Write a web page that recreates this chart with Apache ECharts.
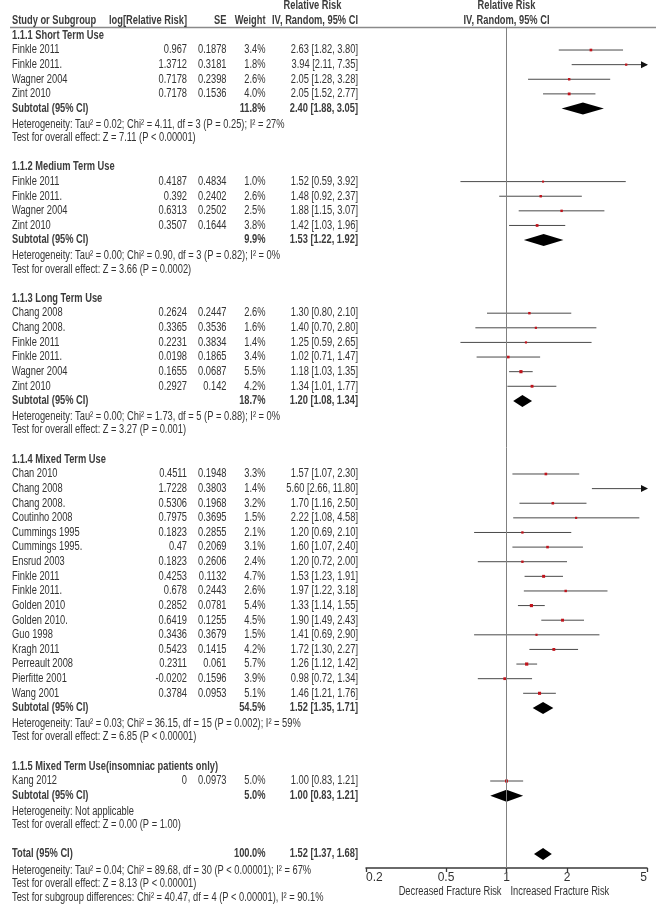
<!DOCTYPE html>
<html><head><meta charset="utf-8">
<script src="https://cdn.jsdelivr.net/npm/echarts@6/dist/echarts.min.js"></script>
<style>html,body{margin:0;padding:0;background:#fff}#c{width:658px;height:908px}</style>
</head><body><div id="c"></div>
<script>
// ---------- DATA ----------
const subgroupTitles = ['1.1.1 Short Term Use', '1.1.2 Medium Term Use', '1.1.3 Long Term Use', '1.1.4 Mixed Term Use', '1.1.5 Mixed Term Use(insomniac patients only)'];
const studyGroup = [0,0,0,0, 1,1,1,1, 2,2,2,2,2,2, 3,3,3,3,3,3,3,3,3,3,3,3,3,3,3,3, 4];
const studyNames = ['Finkle 2011','Finkle 2011.','Wagner 2004','Zint 2010',
  'Finkle 2011','Finkle 2011.','Wagner 2004','Zint 2010',
  'Chang 2008','Chang 2008.','Finkle 2011','Finkle 2011.','Wagner 2004','Zint 2010',
  'Chan 2010','Chang 2008','Chang 2008.','Coutinho 2008','Cummings 1995','Cummings 1995.','Ensrud 2003','Finkle 2011','Finkle 2011.','Golden 2010','Golden 2010.','Guo 1998','Kragh 2011','Perreault 2008','Pierfitte 2001','Wang 2001',
  'Kang 2012'];
const logRR = [0.967,1.3712,0.7178,0.7178,
  0.4187,0.392,0.6313,0.3507,
  0.2624,0.3365,0.2231,0.0198,0.1655,0.2927,
  0.4511,1.7228,0.5306,0.7975,0.1823,0.47,0.1823,0.4253,0.678,0.2852,0.6419,0.3436,0.5423,0.2311,-0.0202,0.3784,
  0];
const seValues = [0.1878,0.3181,0.2398,0.1536,
  0.4834,0.2402,0.2502,0.1644,
  0.2447,0.3536,0.3834,0.1865,0.0687,0.142,
  0.1948,0.3803,0.1968,0.3695,0.2855,0.2069,0.2606,0.1132,0.2443,0.0781,0.1255,0.3679,0.1415,0.061,0.1596,0.0953,
  0.0973];
const weights = [3.4,1.8,2.6,4.0,
  1.0,2.6,2.5,3.8,
  2.6,1.6,1.4,3.4,5.5,4.2,
  3.3,1.4,3.2,1.5,2.1,3.1,2.4,4.7,2.6,5.4,4.5,1.5,4.2,5.7,3.9,5.1,
  5.0];
const rrValues = [2.63,3.94,2.05,2.05,
  1.52,1.48,1.88,1.42,
  1.30,1.40,1.25,1.02,1.18,1.34,
  1.57,5.60,1.70,2.22,1.20,1.60,1.20,1.53,1.97,1.33,1.90,1.41,1.72,1.26,0.98,1.46,
  1.00];
const ciLower = [1.82,2.11,1.28,1.52,
  0.59,0.92,1.15,1.03,
  0.80,0.70,0.59,0.71,1.03,1.01,
  1.07,2.66,1.16,1.08,0.69,1.07,0.72,1.23,1.22,1.14,1.49,0.69,1.30,1.12,0.72,1.21,
  0.83];
const ciUpper = [3.80,7.35,3.28,2.77,
  3.92,2.37,3.07,1.96,
  2.10,2.80,2.65,1.47,1.35,1.77,
  2.30,11.80,2.50,4.58,2.10,2.40,2.00,1.91,3.18,1.55,2.43,2.90,2.27,1.42,1.34,1.76,
  1.21];
const subtotalWeight = [11.8, 9.9, 18.7, 54.5, 5.0];
const subtotalRR = [2.40, 1.53, 1.20, 1.52, 1.00];
const subtotalLower = [1.88, 1.22, 1.08, 1.35, 0.83];
const subtotalUpper = [3.05, 1.92, 1.34, 1.71, 1.21];
const heterogeneityTexts = [
  'Heterogeneity: Tau² = 0.02; Chi² = 4.11, df = 3 (P = 0.25); I² = 27%',
  'Heterogeneity: Tau² = 0.00; Chi² = 0.90, df = 3 (P = 0.82); I² = 0%',
  'Heterogeneity: Tau² = 0.00; Chi² = 1.73, df = 5 (P = 0.88); I² = 0%',
  'Heterogeneity: Tau² = 0.03; Chi² = 36.15, df = 15 (P = 0.002); I² = 59%',
  'Heterogeneity: Not applicable'];
const overallEffectTexts = [
  'Test for overall effect: Z = 7.11 (P < 0.00001)',
  'Test for overall effect: Z = 3.66 (P = 0.0002)',
  'Test for overall effect: Z = 3.27 (P = 0.001)',
  'Test for overall effect: Z = 6.85 (P < 0.00001)',
  'Test for overall effect: Z = 0.00 (P = 1.00)'];
const totalWeight = 100.0;
const totalRR = 1.52, totalLower = 1.37, totalUpper = 1.68;
const totalTexts = [
  'Heterogeneity: Tau² = 0.04; Chi² = 89.68, df = 30 (P < 0.00001); I² = 67%',
  'Test for overall effect: Z = 8.13 (P < 0.00001)',
  'Test for subgroup differences: Chi² = 40.47, df = 4 (P < 0.00001), I² = 90.1%'];
const headerTop = ['Relative Risk', 'Relative Risk'];
const headerCols = ['Study or Subgroup', 'log[Relative Risk]', 'SE', 'Weight', 'IV, Random, 95% CI', 'IV, Random, 95% CI'];
const axisTicks = [0.2, 0.5, 1, 2, 5];
const favoursLabels = ['Decreased Fracture Risk', 'Increased Fracture Risk'];

// ---------- LAYOUT (rows built from structure) ----------
const FONT_FAMILY = '"Liberation Sans",Arial,sans-serif';
const NARROW = 0.775;
const COL = {name: 12, log: 187, se: 226.5, weight: 265.5, ci: 358, ciCenter: 312.5};
const fmtCI = (r, l, u) => r.toFixed(2) + ' [' + l.toFixed(2) + ', ' + u.toFixed(2) + ']';

const textRows = [];   // {row, cells:[...]}
const studyRows = [];  // [rr, lo, hi, row, weight]
const diamondRows = []; // [rr, lo, hi, row]
textRows.push({row: -2, cells: [{x: 'ciCenter', text: headerTop[0], bold: true, align: 'center'}, {x: 'one', text: headerTop[1], bold: true, align: 'center'}]});
textRows.push({row: -1, cells: [
  {x: 'name', text: headerCols[0], bold: true, align: 'left'},
  {x: 'log', text: headerCols[1], bold: true, align: 'right'},
  {x: 'se', text: headerCols[2], bold: true, align: 'right'},
  {x: 'weight', text: headerCols[3], bold: true, align: 'right'},
  {x: 'ci', text: headerCols[4], bold: true, align: 'right'},
  {x: 'one', text: headerCols[5], bold: true, align: 'center'}]});
let r = 0;
subgroupTitles.forEach((title, g) => {
  textRows.push({row: r, cells: [{x: 'name', text: title, bold: true, align: 'left'}]});
  r++;
  studyNames.forEach((nm, i) => {
    if (studyGroup[i] !== g) return;
    textRows.push({row: r, cells: [
      {x: 'name', text: nm, align: 'left'},
      {x: 'log', text: String(logRR[i]), align: 'right'},
      {x: 'se', text: String(seValues[i]), align: 'right'},
      {x: 'weight', text: weights[i].toFixed(1) + '%', align: 'right'},
      {x: 'ci', text: fmtCI(rrValues[i], ciLower[i], ciUpper[i]), align: 'right'}]});
    studyRows.push([rrValues[i], ciLower[i], ciUpper[i], r, weights[i]]);
    r++;
  });
  textRows.push({row: r, cells: [
    {x: 'name', text: 'Subtotal (95% CI)', bold: true, align: 'left'},
    {x: 'weight', text: subtotalWeight[g].toFixed(1) + '%', bold: true, align: 'right'},
    {x: 'ci', text: fmtCI(subtotalRR[g], subtotalLower[g], subtotalUpper[g]), bold: true, align: 'right'}]});
  diamondRows.push([subtotalRR[g], subtotalLower[g], subtotalUpper[g], r]);
  r++;
  textRows.push({row: r + 0.1, cells: [{x: 'name', text: heterogeneityTexts[g], align: 'left'}]});
  r++;
  textRows.push({row: r, cells: [{x: 'name', text: overallEffectTexts[g], align: 'left'}]});
  r += 2;
});
textRows.push({row: r, cells: [
  {x: 'name', text: 'Total (95% CI)', bold: true, align: 'left'},
  {x: 'weight', text: totalWeight.toFixed(1) + '%', bold: true, align: 'right'},
  {x: 'ci', text: fmtCI(totalRR, totalLower, totalUpper), bold: true, align: 'right'}]});
diamondRows.push([totalRR, totalLower, totalUpper, r]);
r++;
totalTexts.forEach((t, k) => { textRows.push({row: r + (k === 0 ? 0.1 : 0), cells: [{x: 'name', text: t, align: 'left'}]}); r++; });
const favoursRow = 58.55;
textRows.push({row: favoursRow, cells: [
  {x: 'oneLeft', text: favoursLabels[0], align: 'right'},
  {x: 'oneRight', text: favoursLabels[1], align: 'left'}]});

const lg = v => Math.log10(v);
const X_MIN = lg(axisTicks[0]), X_MAX = lg(axisTicks[axisTicks.length - 1]);

const chart = echarts.init(document.getElementById('c'), null, {renderer: 'canvas'});
const option = {
  animation: false,
  grid: {left: 366, right: 11, top: 27, bottom: 40, containLabel: false},
  xAxis: {
    type: 'value', min: X_MIN, max: X_MAX, position: 'bottom',
    axisLine: {show: true, onZero: false, lineStyle: {color: '#3a3a3a', width: 1.5}},
    axisTick: {show: true, length: 4, customValues: axisTicks.map(lg), lineStyle: {color: '#3a3a3a', width: 1.3}},
    axisLabel: {
      customValues: axisTicks.map(lg), margin: 4, color: '#333',
      fontFamily: FONT_FAMILY, fontSize: 12,
      alignMinLabel: 'left', alignMaxLabel: 'right',
      formatter: v => { let best = axisTicks[0]; axisTicks.forEach(t => { if (Math.abs(lg(t) - v) < Math.abs(lg(best) - v)) best = t; }); return String(best); }
    },
    splitLine: {show: false}
  },
  yAxis: {type: 'value', inverse: true, min: -0.575, max: 56.95, show: false},
  graphic: [{type: 'line', shape: {x1: 10, y1: 27.5, x2: 656, y2: 27.5}, style: {stroke: '#8a8a8a', lineWidth: 1.6}, silent: true}],
  series: [
    {
      type: 'custom', name: 'table', clip: false, silent: true,
      data: textRows.map((t, i) => [0, t.row, i]),
      renderItem: (params, api) => {
        const t = textRows[params.dataIndex];
        const y = api.coord([0, api.value(1)])[1];
        const xOne = api.coord([0, 0])[0];
        const xs = Object.assign({}, COL, {one: xOne, oneLeft: xOne - 5, oneRight: xOne + 4});
        return {type: 'group', children: t.cells.map(c => ({
          type: 'text', x: xs[c.x], y: y, scaleX: NARROW,
          style: {text: c.text, x: 0, y: 0, textAlign: c.align, textVerticalAlign: 'middle',
            font: (c.bold ? 'bold ' : '') + '12px ' + FONT_FAMILY, fill: c.bold ? '#3c3c3c' : '#333'}
        }))};
      },
      markLine: {silent: true, symbol: 'none', label: {show: false}, lineStyle: {color: '#808080', width: 1, type: 'solid'}, data: [{xAxis: 0}]}
    },
    {
      type: 'custom', name: 'studies', clip: false, silent: true,
      data: studyRows,
      renderItem: (params, api) => {
        const rr = api.value(0), lo = api.value(1), hi = api.value(2), row = api.value(3), w = api.value(4);
        const y = api.coord([0, row])[1];
        const xl = api.coord([Math.max(lg(lo), X_MIN), row])[0];
        const xh = api.coord([Math.min(lg(hi), X_MAX), row])[0];
        const kids = [{type: 'line', shape: {x1: xl, y1: y, x2: xh, y2: y}, style: {stroke: '#4a4a4a', lineWidth: 1}}];
        if (hi > axisTicks[axisTicks.length - 1]) {
          kids.push({type: 'polygon', shape: {points: [[xh + 1, y], [xh - 6, y - 3.5], [xh - 6, y + 3.5]]}, style: {fill: '#111'}});
        }
        if (lg(rr) <= X_MAX && lg(rr) >= X_MIN) {
          const s = 1.8 + w * 0.25;
          const xc = api.coord([lg(rr), row])[0];
          kids.push({type: 'rect', shape: {x: xc - s / 2, y: y - s / 2, width: s, height: s}, style: {fill: '#c0141c'}});
        }
        return {type: 'group', children: kids};
      }
    },
    {
      type: 'custom', name: 'diamonds', clip: false, silent: true,
      data: diamondRows,
      renderItem: (params, api) => {
        const row = api.value(3);
        const y = api.coord([0, row])[1];
        const xc = api.coord([lg(api.value(0)), row])[0];
        const xl = api.coord([lg(api.value(1)), row])[0];
        const xh = api.coord([lg(api.value(2)), row])[0];
        return {type: 'polygon', shape: {points: [[xl, y], [xc, y - 6], [xh, y], [xc, y + 6]]}, style: {fill: '#000'}};
      }
    }
  ]
};
chart.setOption(option);
</script>
</body></html>
